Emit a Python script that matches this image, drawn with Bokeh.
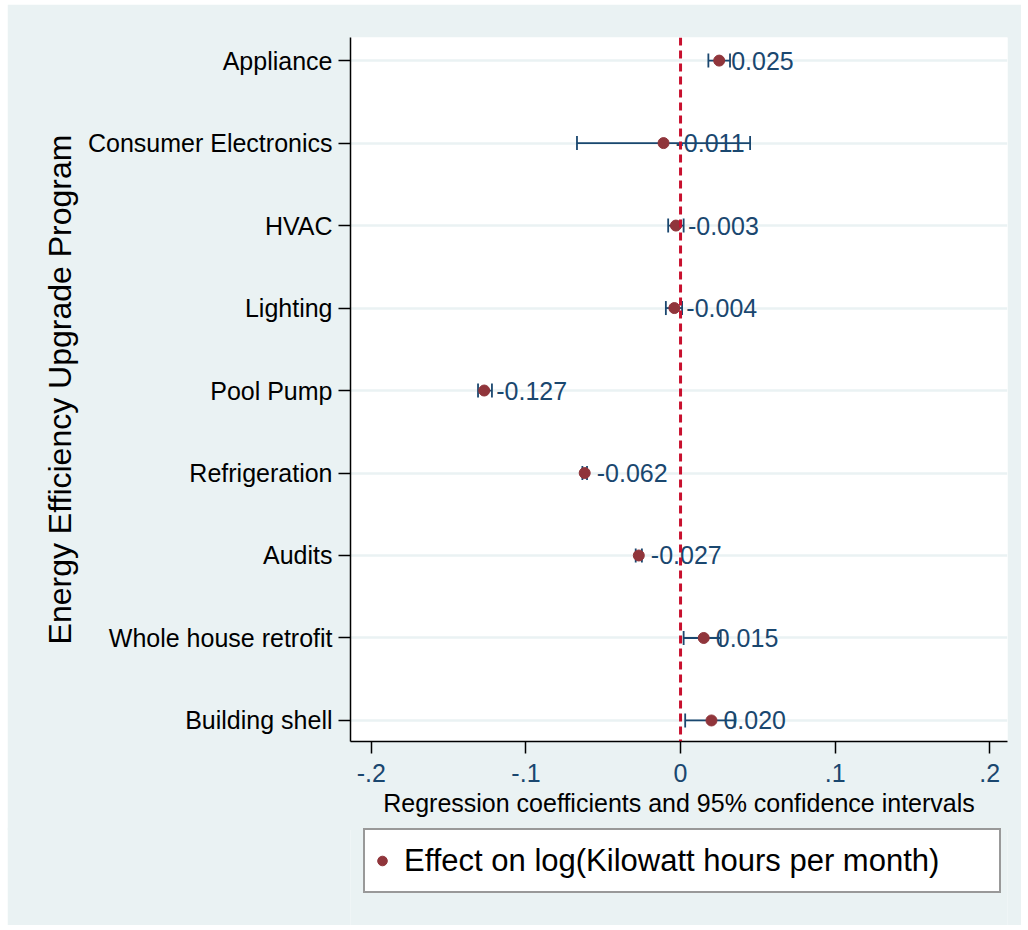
from bokeh.plotting import figure
from bokeh.layouts import column
from bokeh.models import (Range1d, FixedTicker, Whisker, TeeHead, Span, Legend,
                          LegendItem, ColumnDataSource)
from bokeh.core.properties import value
from bokeh.embed import file_html
from bokeh.resources import INLINE

# ---- data ----
categories = ["Appliance", "Consumer Electronics", "HVAC", "Lighting", "Pool Pump",
              "Refrigeration", "Audits", "Whole house retrofit", "Building shell"]
coef = [0.025, -0.011, -0.003, -0.004, -0.127, -0.062, -0.027, 0.015, 0.020]
ci_low = [0.018, -0.067, -0.008, -0.0095, -0.131, -0.0635, -0.029, 0.002, 0.003]
ci_high = [0.032, 0.045, 0.002, 0.001, -0.122, -0.0605, -0.025, 0.026, 0.035]
xtick_values = [-0.2, -0.1, 0.0, 0.1, 0.2]
xtick_labels = ["-.2", "-.1", "0", ".1", ".2"]
series_label = "Effect on log(Kilowatt hours per month)"

n = len(categories)
ypos = [n - i for i in range(n)]
labels = [f"{v:.3f}" for v in coef]

src = ColumnDataSource(dict(y=ypos, coef=coef, lo=ci_low, hi=ci_high, lab=labels))

FONT = "Liberation Sans"
NAVY = "#1a476f"
MAROON = "#90353b"
BG = "#eaf2f3"

# ---------------- main plot ----------------
p = figure(width=1014, height=826, output_backend="svg", toolbar_location=None,
           x_range=Range1d(-0.2135, 0.2115), y_range=Range1d(0.745, 9.28),
           min_border_left=343, min_border_right=14, min_border_top=33,
           min_border_bottom=89)
p.margin = (4, 0, 0, 7)
p.background_fill_color = "white"
p.border_fill_color = BG
p.outline_line_color = None

p.xgrid.grid_line_color = None
p.ygrid.grid_line_color = BG
p.ygrid.grid_line_width = 2.5

p.yaxis.ticker = FixedTicker(ticks=ypos)
p.yaxis.major_label_overrides = {y: c for y, c in zip(ypos, categories)}
p.xaxis.ticker = FixedTicker(ticks=xtick_values)
p.xaxis.major_label_overrides = {v: l for v, l in zip(xtick_values, xtick_labels)}

for ax in (p.xaxis, p.yaxis):
    ax.axis_line_color = "black"
    ax.axis_line_width = 1.5
    ax.major_tick_line_color = "black"
    ax.major_tick_line_width = 1.5
    ax.major_tick_out = 12
    ax.major_tick_in = 0
    ax.minor_tick_line_color = None
    ax.major_label_text_font = FONT
    ax.major_label_text_font_size = "25px"
    ax.major_label_text_color = "black"
    ax.axis_label_text_font = FONT
    ax.axis_label_text_font_style = "normal"
    ax.axis_label_text_color = "black"

p.xaxis.major_label_text_color = NAVY
p.xaxis.major_label_standoff = 10
p.xaxis.axis_label = "Regression coefficients and 95% confidence intervals"
p.xaxis.axis_label_text_font_size = "25px"
p.xaxis.axis_label_standoff = 4

p.yaxis.major_label_standoff = 6
p.yaxis.axis_label = "Energy Efficiency Upgrade Program"
p.yaxis.axis_label_text_font_size = "32px"
p.yaxis.axis_label_standoff = 7

p.add_layout(Span(location=0, dimension="height", line_color="#c8102e",
                  line_width=3, line_dash="8 5"))

wh = Whisker(source=src, base="y", lower="lo", upper="hi", dimension="width",
             line_color=NAVY, line_width=1.8,
             lower_head=TeeHead(size=14, line_color=NAVY, line_width=1.8),
             upper_head=TeeHead(size=14, line_color=NAVY, line_width=1.8))
p.add_layout(wh)

p.scatter("coef", "y", source=src, size=11, marker="circle",
          fill_color=MAROON, line_color=MAROON)

p.text("coef", "y", text="lab", source=src, x_offset=12, text_baseline="middle",
       text_align="left", text_font=value(FONT), text_font_size="25px",
       text_color=NAVY)

# ---------------- legend strip ----------------
lg = figure(width=1014, height=98, output_backend="svg", toolbar_location=None,
            x_range=Range1d(1, 2), y_range=Range1d(20, 30),
            x_axis_type=None, y_axis_type=None,
            min_border_left=0, min_border_right=0, min_border_top=0,
            min_border_bottom=0)
lg.margin = (-3, 0, 0, 7)
lg.background_fill_color = BG
lg.border_fill_color = BG
lg.outline_line_color = None
lg.grid.grid_line_color = None
# same series, styled identically; lies outside this strip's ranges so only its legend shows
r_leg = lg.scatter("coef", "y", source=src, size=11, marker="circle",
                   fill_color=MAROON, line_color=MAROON)

legend = Legend(items=[LegendItem(label=series_label, renderers=[r_leg])],
                location=(13, 32), orientation="vertical",
                border_line_color="#333333", border_line_width=2,
                background_fill_color="white", background_fill_alpha=1,
                label_text_font=FONT, label_text_font_size="31px",
                label_text_color="black",
                padding=5, spacing=0, glyph_width=24, glyph_height=51,
                label_standoff=10, label_width=590, margin=0)
lg.add_layout(legend)

layout = column(p, lg, spacing=0)
open("out.html", "w").write(file_html(layout, INLINE))
